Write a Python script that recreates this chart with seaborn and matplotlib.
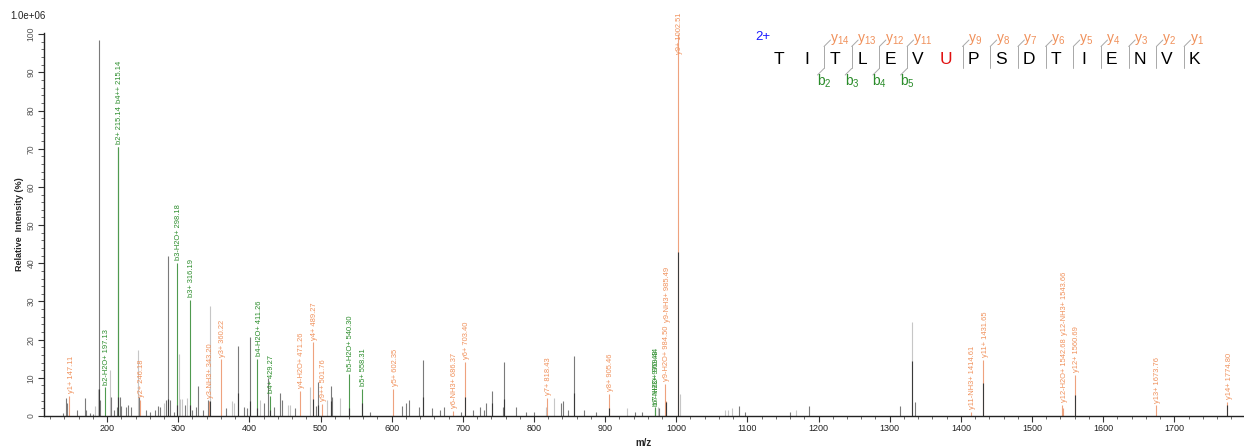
# MS/MS spectrum of TITLEVUPSDTIENVK (2+), annotated b / y fragments
import numpy as np
import pandas as pd
import matplotlib
matplotlib.use("Agg")
import matplotlib.pyplot as plt
from matplotlib.lines import Line2D
from matplotlib.ticker import MultipleLocator
import seaborn as sns

sns.set_style("ticks")
plt.rcParams['font.family'] = ['Liberation Sans', 'DejaVu Sans']

# -----------------------------
# Data
# -----------------------------
# unassigned peaks (darker trace)
dark_mz = [138.6, 142.3, 144.0, 158.0, 169.0, 171.0, 176.0, 179.6, 189.0, 190.5,
           204.9, 209.6, 213.9, 217.5, 219.0, 227.0, 230.0, 233.3, 245.0, 255.0,
           260.6, 267.7, 271.0, 273.7, 283.0, 285.5, 288.7, 293.4, 308.9, 320.0,
           325.6, 328.0, 335.0, 342.0, 366.8, 383.6, 392.0, 396.7, 401.4, 420.0,
           426.5, 434.0, 443.7, 445.4, 464.8, 493.0, 496.5, 514.0, 515.6, 570.0,
           615.0, 620.6, 624.4, 638.5, 644.2, 657.0, 668.0, 673.7, 698.0, 713.6,
           724.4, 730.0, 732.4, 741.0, 756.0, 758.5, 774.6, 788.7, 799.5, 838.0,
           840.5, 847.4, 856.8, 871.0, 887.3, 942.0, 952.0, 975.6, 1087.8, 1097.0,
           1159.5, 1186.0, 1314.0, 1335.0]
dark_int = [0.7, 4.6, 3.3, 1.7, 4.6, 1.6, 0.9, 0.5, 98.5, 4.2,
            5.0, 1.6, 2.3, 5.0, 2.5, 2.3, 2.9, 2.3, 5.0, 1.6,
            1.1, 1.6, 2.6, 2.4, 4.2, 42.0, 4.2, 1.1, 2.9, 1.6,
            2.4, 7.9, 1.6, 4.2, 2.0, 18.3, 2.4, 2.0, 20.6, 3.3,
            10.0, 2.4, 6.0, 4.2, 2.0, 2.6, 8.8, 7.8, 5.0, 1.1,
            2.6, 3.3, 4.2, 2.4, 14.7, 2.0, 1.6, 2.4, 1.1, 1.7,
            2.4, 1.7, 3.3, 6.6, 2.4, 14.2, 2.3, 1.0, 1.1, 3.5,
            4.0, 1.6, 15.8, 1.6, 1.0, 1.1, 1.0, 2.0, 2.6, 1.0,
            1.1, 2.5, 2.6, 3.7]

# unassigned peaks (light trace)
light_mz = [183.0, 187.0, 203.5, 243.2, 280.3, 300.5, 302.0, 305.6, 312.6, 344.8,
            376.0, 378.5, 415.5, 454.0, 457.7, 485.5, 509.4, 528.0, 816.9, 827.7,
            931.0, 974.0, 1005.6, 1068.0, 1072.8, 1078.0, 1169.0, 1331.5]
light_int = [2.6, 7.2, 12.0, 17.3, 3.3, 16.2, 4.5, 4.5, 4.8, 28.8,
             3.8, 3.3, 4.2, 2.9, 2.9, 7.5, 4.2, 4.6, 2.4, 4.6,
             2.0, 2.3, 5.8, 1.6, 1.7, 2.0, 1.7, 24.5]

# dark base of the stronger peaks
base_mz = [189.0, 215.14, 285.5, 298.18, 316.19, 344.8, 383.6, 401.4, 411.26, 429.27,
           489.27, 496.5, 514.0, 540.30, 558.31, 644.2, 703.40, 741.0, 758.5, 856.8,
           905.46, 985.49, 1002.51, 1331.5, 1431.65, 1560.69, 1774.80]
base_int = [7.0, 5.0, 4.5, 3.0, 3.0, 4.0, 6.0, 4.0, 2.0, 1.5,
            4.5, 3.0, 4.0, 2.0, 3.5, 5.0, 5.0, 3.5, 4.5, 6.0,
            2.0, 3.7, 43.0, 14.3, 8.6, 5.4, 3.0]

# assigned fragment ions
ion_mz = [147.11, 197.13, 215.14, 215.14, 246.18, 298.18, 316.19, 343.20, 360.22, 411.26,
          429.27, 471.26, 489.27, 501.76, 540.30, 558.31, 602.35, 686.37, 703.40, 818.43,
          905.46, 969.44, 970.43, 984.50, 985.49, 1002.51, 1414.61, 1431.65, 1542.68, 1543.66,
          1560.69, 1673.76, 1774.80]
ion_int = [5.2, 7.5, 70.5, 70.5, 4.3, 40.0, 30.5, 4.0, 14.8, 15.0,
           5.2, 6.6, 19.3, 3.2, 11.0, 7.2, 7.0, 1.3, 14.2, 4.8,
           5.8, 2.3, 1.8, 8.5, 3.8, 100.0, 1.0, 14.6, 3.0, 2.0,
           10.8, 2.8, 3.7]
ion_label = ['y1+ 147.11', 'b2-H2O+ 197.13', 'b2+ 215.14', 'b4++ 215.14', 'y2+ 246.18',
             'b3-H2O+ 298.18', 'b3+ 316.19', 'y3-NH3+ 343.20', 'y3+ 360.22', 'b4-H2O+ 411.26',
             'b4+ 429.27', 'y4-H2O+ 471.26', 'y4+ 489.27', 'y9++ 501.76', 'b5-H2O+ 540.30',
             'b5+ 558.31', 'y5+ 602.35', 'y6-NH3+ 686.37', 'y6+ 703.40', 'y7+ 818.43',
             'y8+ 905.46', 'b7-H2O+ 969.44', 'b7-NH3+ 970.43', 'y9-H2O+ 984.50', 'y9-NH3+ 985.49',
             'y9+ 1002.51', 'y11-NH3+ 1414.61', 'y11+ 1431.65', 'y12-H2O+ 1542.68', 'y12-NH3+ 1543.66',
             'y12+ 1560.69', 'y13+ 1673.76', 'y14+ 1774.80']
ion_series = [lab[0] for lab in ion_label]

# labels that sit on top of the previous label instead of on their peak
stacked_labels = ['b4++ 215.14', 'y9-NH3+ 985.49', 'y12-NH3+ 1543.66']

# peptide
sequence = "TITLEVUPSDTIENVK"
charge = "2+"
b_seen = [2, 3, 4, 5]
y_seen = [1, 2, 3, 4, 5, 6, 7, 8, 9, 11, 12, 13, 14]

ions = pd.DataFrame({'mz': ion_mz, 'intensity': ion_int,
                     'label': ion_label, 'series': ion_series})

# -----------------------------
# Plot
# -----------------------------
W, H = 1244, 448
fig = plt.figure(figsize=(W / 100, H / 100), dpi=100)
ax = fig.add_axes([44 / W, 32 / H, 1200 / W, 383 / H])

line_col = {'y': '#eea27e', 'b': '#4f9a4f'}
text_col = {'y': '#f0905a', 'b': '#2a8c2a'}

ax.vlines(light_mz, 0, light_int, colors='#c6c6c6', lw=0.8)
ax.vlines(dark_mz, 0, dark_int, colors='#7a7a7a', lw=0.8)
ax.vlines(ions['mz'], 0, ions['intensity'],
          colors=[line_col[s] for s in ions['series']], lw=0.8)
ax.vlines(base_mz, 0, base_int, colors='#3a3a3a', lw=0.8)

texts = []
for _, r in ions.iterrows():
    t = ax.annotate(r['label'], xy=(r['mz'], r['intensity']), xytext=(1.2, 2),
                    textcoords='offset points', rotation=90, ha='center', va='bottom',
                    fontsize=5.4, color=text_col[r['series']])
    texts.append(t)

ax.set_xlim(111.3, 1798)
ax.set_ylim(0, 100.3)
ax.xaxis.set_major_locator(MultipleLocator(100))
ax.xaxis.set_minor_locator(MultipleLocator(20))
ax.yaxis.set_major_locator(MultipleLocator(10))
ax.yaxis.set_minor_locator(MultipleLocator(2))
ax.tick_params(which='major', length=4, width=0.8, color='#333333', pad=2)
ax.tick_params(which='minor', length=2, width=0.6, color='#555555')
ax.tick_params(axis='x', labelsize=6.5, labelcolor='#222222')
ax.tick_params(axis='y', labelsize=6.2, labelcolor='#555555', labelrotation=90)
for lab in ax.get_yticklabels():
    lab.set_va('center')
ax.set_xlabel('m/z', fontsize=7, fontweight='bold', labelpad=3)
ax.set_ylabel('Relative  Intensity (%)', fontsize=6.5, fontweight='bold', labelpad=2)
sns.despine(ax=ax)
for s in ['left', 'bottom']:
    ax.spines[s].set_linewidth(1.0)
    ax.spines[s].set_color('#222222')

fig.text(28 / W, 1 - 16 / H, '1.0e+06', ha='center', va='center', fontsize=7, color='#222222')

# place stacked labels above their neighbour and keep labels inside the figure
fig.canvas.draw()
renderer = fig.canvas.get_renderer()
inv = ax.transData.inverted()
off_px = 2 * fig.dpi / 72
for i, t in enumerate(texts):
    bb = t.get_window_extent(renderer)
    if ion_label[i] in stacked_labels:
        prev = texts[i - 1].get_window_extent(renderer)
        xd, _ = ax.transData.transform(t.xy)
        t.xy = (t.xy[0], inv.transform((xd, prev.y1 + 3 - off_px))[1])
        bb = t.get_window_extent(renderer)
    if bb.y1 > H - 12:
        xd, yd = ax.transData.transform(t.xy)
        t.xy = (t.xy[0], inv.transform((xd, yd - (bb.y1 - (H - 12))))[1])

# peptide sequence with fragment markers
def fx(px):
    return px / W

def fy(py):
    return 1 - py / H

x0, step, yc = 779.3, 27.7, 60
fig.text(fx(763), fy(37), charge, ha='center', va='center', fontsize=9.5, color='#1a1aff')
for k, aa in enumerate(sequence):
    fig.text(fx(x0 + step * k), fy(yc), aa, ha='center', va='center', fontsize=12.5,
             color='#e01010' if aa == 'U' else 'black')

n = len(sequence)
cuts = sorted(set(b_seen) | {n - y for y in y_seen})
mark = '#a8a8a8'
for c in cuts:
    vx = x0 + step * (c - 1) + 17
    fig.add_artist(Line2D([fx(vx), fx(vx)], [fy(46.5), fy(68.5)], color=mark, lw=0.7))
    if (n - c) in y_seen:
        fig.add_artist(Line2D([fx(vx), fx(vx + 6.5)], [fy(46.5), fy(40)], color=mark, lw=0.7))
        fig.text(fx(vx + 5.5), fy(42), r'$\mathregular{y_{%d}}$' % (n - c), ha='left',
                 va='baseline', fontsize=10, color='#f0905a')
    if c in b_seen:
        fig.add_artist(Line2D([fx(vx), fx(vx - 6.5)], [fy(68.5), fy(75)], color=mark, lw=0.7))
        fig.text(fx(vx - 7), fy(86), r'$\mathregular{b_{%d}}$' % c, ha='left',
                 va='baseline', fontsize=10, color='#2a8c2a')

fig.savefig('out.png', dpi=100)
